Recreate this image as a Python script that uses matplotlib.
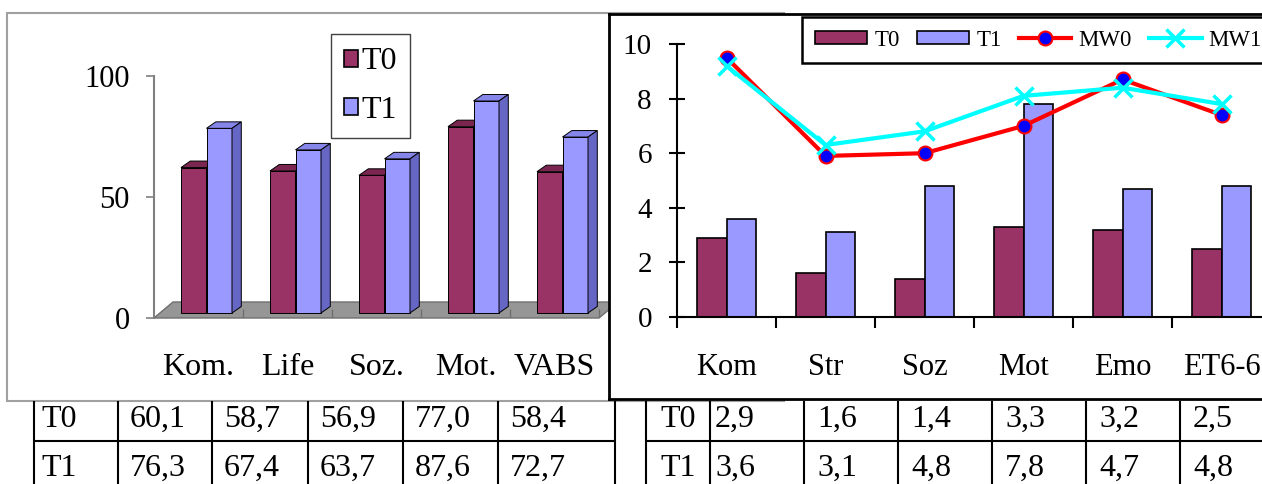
import numpy as np
import matplotlib.pyplot as plt
from matplotlib.patches import Polygon, Rectangle, Patch

plt.rcParams['font.family'] = ['Liberation Serif', 'DejaVu Serif']

# left chart (3D bars)
left_cats = ['Kom.', 'Life', 'Soz.', 'Mot.', 'VABS']
left_t0 = [60.1, 58.7, 56.9, 77.0, 58.4]
left_t1 = [76.3, 67.4, 63.7, 87.6, 72.7]
left_yticks = [0, 50, 100]

# right chart (bars + lines)
right_cats = ['Kom', 'Str', 'Soz', 'Mot', 'Emo', 'ET6-6']
right_t0 = [2.9, 1.6, 1.4, 3.3, 3.2, 2.5]
right_t1 = [3.6, 3.1, 4.8, 7.8, 4.7, 4.8]
mw0 = [9.5, 5.9, 6.0, 7.0, 8.7, 7.4]
mw1 = [9.2, 6.3, 6.8, 8.1, 8.4, 7.8]
right_yticks = [0, 2, 4, 6, 8, 10]

series_names = ['T0', 'T1']

C_T0 = '#993366'
C_T1 = '#9999ff'

W, H = 1262, 484
fig = plt.figure(figsize=(W / 100, H / 100), dpi=100)


def px_axes(x0, y0, x1, y1):
    # axes placed by pixel box (top-left origin)
    return fig.add_axes([x0 / W, 1 - y1 / H, (x1 - x0) / W, (y1 - y0) / H])


def fmt(v):
    return f'{v:.1f}'.replace('.', ',')


# background layer: panel frame and the two tables
bg = px_axes(0, 0, W, H)
bg.set_xlim(0, W)
bg.set_ylim(H, 0)
bg.axis('off')
bg.set_zorder(0)
bg.add_patch(Rectangle((7, 13), 777, 388, fc='white', ec='#a0a0a0', lw=1.5))

left_cols = [34, 118, 212, 308, 403, 498, 615]
right_cols = [646, 710, 804, 898, 992, 1086, 1180, 1274]
row_base = [427, 476]
for cols, vals, pads in [(left_cols, [left_t0, left_t1], [7] + [12] * 5),
                         (right_cols, [right_t0, right_t1], [14, 5] + [13] * 5)]:
    bg.vlines(cols, 401, 490, color='k', lw=1.5)
    bg.hlines(441, cols[0], cols[-1], color='k', lw=1.5)
    for r, (name, row) in enumerate(zip(series_names, vals)):
        cells = [name] + [fmt(v) for v in row]
        for c, txt in enumerate(cells):
            bg.text(cols[c] + pads[c], row_base[r], txt, fontsize=23,
                    ha='left', va='baseline')

# ---- left 3D bar chart ----
px_u = 89.0          # pixels per category
px_v = 242 / 100.0   # pixels per value unit
axL = px_axes(154, 76, 154 + 5.5 * px_u, 318)
axL.set_zorder(1)
axL.patch.set_alpha(0)
axL.set_xlim(-0.5, 5.0)
axL.set_ylim(0, 100)

n = len(left_cats)
xl = np.arange(n)
w = 25.5 / px_u
dxb, dyb = 8 / px_u, 5 / px_v          # bars set back on the floor
ddx, ddy = 9.3 / px_u, 6.5 / px_v      # bar depth
dxf, dyf = 19 / px_u, 16 / px_v        # floor depth

floor = Polygon([(-0.5, 0), (n - 0.5, 0), (n - 0.5 + dxf, dyf), (-0.5 + dxf, dyf)],
                closed=True, fc='#969696', ec='#6e6e6e', lw=1, clip_on=False, zorder=1)
axL.add_patch(floor)
axL.vlines(np.arange(n) + 0.5, 0, 3.6, color='#6e6e6e', lw=1, zorder=1.5)


def bar3d(ax, left, vals, front, top, side, z):
    ax.bar(left + w / 2, vals, width=w, bottom=dyb, color=front,
           edgecolor='k', lw=0.7, zorder=z)
    for x0, v in zip(left, vals):
        x1 = x0 + w
        yt = dyb + v
        ax.add_patch(Polygon([(x0, yt), (x1, yt), (x1 + ddx, yt + ddy), (x0 + ddx, yt + ddy)],
                             closed=True, fc=top, ec='k', lw=0.7, zorder=z, clip_on=False))
        ax.add_patch(Polygon([(x1, dyb), (x1 + ddx, dyb + ddy), (x1 + ddx, yt + ddy), (x1, yt)],
                             closed=True, fc=side, ec='k', lw=0.7, zorder=z, clip_on=False))


bar3d(axL, xl + dxb - w, left_t0, C_T0, '#7a2650', '#66203f', 3)
bar3d(axL, xl + dxb, left_t1, C_T1, '#8585ea', '#6666c4', 4)

for s in ['top', 'right', 'bottom']:
    axL.spines[s].set_visible(False)
axL.spines['left'].set_color('#808080')
axL.spines['left'].set_linewidth(1.5)
axL.set_yticks(left_yticks)
axL.tick_params(axis='y', direction='out', length=5.8, width=1.2, color='#808080',
                labelsize=22, pad=11.5)
axL.set_xticks(xl, left_cats)
axL.tick_params(axis='x', length=0, labelsize=23, pad=25)

legL = axL.legend([Patch(fc=C_T0, ec='k', lw=1.2), Patch(fc=C_T1, ec='k', lw=1.2)],
                  series_names, loc='upper left', bbox_to_anchor=(331 / W, 1 - 34 / H),
                  bbox_transform=fig.transFigure, borderaxespad=0, fontsize=23,
                  handlelength=0.44, handleheight=0.44, handletextpad=0.08,
                  labelspacing=0.6, borderpad=0.42, fancybox=False, framealpha=1,
                  edgecolor='#404040')
legL.get_frame().set_linewidth(1.0)

# ---- right panel frame ----
panel = px_axes(609, 14, 1300, 399)
panel.set_zorder(2)
panel.set_xticks([])
panel.set_yticks([])
for s in panel.spines.values():
    s.set_color('k')
    s.set_linewidth(2)

# ---- right bar + line chart ----
axR = px_axes(677, 44, 1271, 317)
axR.set_zorder(3)
axR.patch.set_alpha(0)
axR.set_xlim(-0.5, 5.5)
axR.set_ylim(0, 10)
xr = np.arange(len(right_cats))
w2 = 29.5 / 99
b0 = axR.bar(xr - w2 / 2, right_t0, width=w2, color=C_T0, edgecolor='k', lw=1.2, zorder=2)
b1 = axR.bar(xr + w2 / 2, right_t1, width=w2, color=C_T1, edgecolor='k', lw=1.2, zorder=2)
l0, = axR.plot(xr, mw0, color='red', lw=3, marker='o', ms=10, mfc='blue', mec='red',
               mew=1.5, zorder=4)
l1, = axR.plot(xr, mw1, color='cyan', lw=3, marker='x', ms=13, mew=2.5, zorder=5)

for s in ['top', 'right']:
    axR.spines[s].set_visible(False)
for s in ['left', 'bottom']:
    axR.spines[s].set_linewidth(1.5)
axR.set_yticks(right_yticks)
axR.tick_params(axis='y', direction='inout', length=11, width=1.5, labelsize=21, pad=12.5)
axR.set_xticks(xr, right_cats)
axR.set_xticks(np.arange(-0.5, len(right_cats)), minor=True)
axR.tick_params(axis='x', which='major', length=0, labelsize=22, pad=26)
axR.tick_params(axis='x', which='minor', direction='out', length=8, width=1.5)

legR = axR.legend([b0, b1, l0, l1], series_names + ['MW0', 'MW1'],
                  loc='upper left', ncol=4, bbox_to_anchor=(802 / W, 1 - 17 / H),
                  bbox_transform=fig.transFigure, borderaxespad=0, fontsize=16.5,
                  handlelength=2.3, handleheight=0.45, handletextpad=0.3,
                  columnspacing=0.75, borderpad=0.55, fancybox=False, framealpha=1,
                  edgecolor='k')
legR.get_frame().set_linewidth(1.8)

fig.savefig('out.png', dpi=100)
